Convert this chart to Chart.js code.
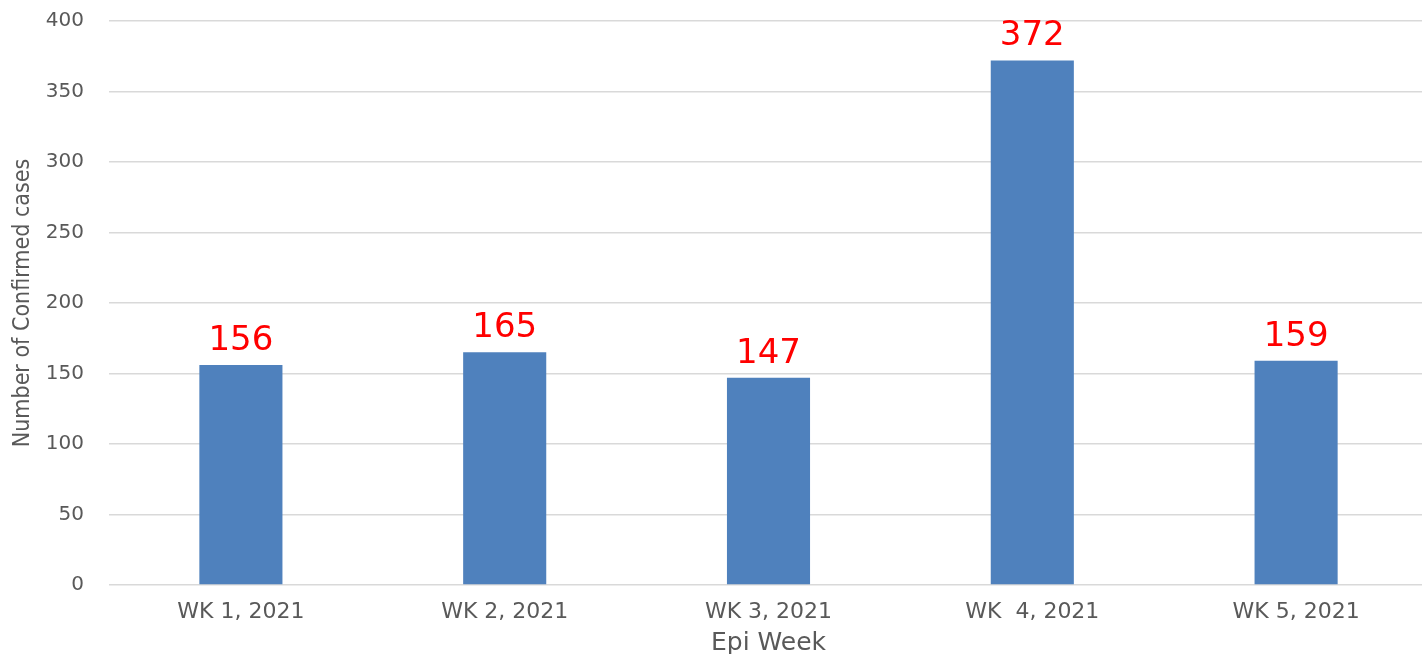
<!DOCTYPE html>
<html>
<head>
<meta charset="utf-8">
<script src="https://cdn.jsdelivr.net/npm/chart.js@4/dist/chart.umd.min.js"></script>
<style>
    html, body { margin: 0; padding: 0; background: #fff; overflow: hidden; }
    .chart-block { position: relative; width: 1430px; height: 658px; }
</style>
</head>
<body>
<div class="chart-block">
    <canvas id="myChart"></canvas>
</div>
<script>
const weeks = ['WK 1, 2021', 'WK 2, 2021', 'WK 3, 2021', 'WK  4, 2021', 'WK 5, 2021'];
const cases = [156, 165, 147, 372, 159];
const yMax = 400;
const yStep = 50;

const axisGrey = '#595959';

// values above the bars, red
const barLabels = {
    id: 'barLabels',
    afterDatasetsDraw(chart) {
        const ctx = chart.ctx;
        const meta = chart.getDatasetMeta(0);
        ctx.save();
        ctx.fillStyle = '#ff0000';
        ctx.font = '34px "DejaVu Sans"';
        ctx.textAlign = 'center';
        ctx.textBaseline = 'alphabetic';
        meta.data.forEach((bar, i) => {
            ctx.fillText(String(cases[i]), bar.x, bar.y - 15);
        });
        ctx.restore();
    }
};

const ctx = document.getElementById('myChart').getContext('2d');
new Chart(ctx, {
    type: 'bar',
    data: {
        labels: weeks,
        datasets: [
            {
                label: 'Confirmed cases',
                data: cases,
                backgroundColor: '#4f81bd',
                borderWidth: 0,
                barPercentage: 0.315,
                categoryPercentage: 1
            }
        ]
    },
    options: {
        responsive: true,
        maintainAspectRatio: false,
        animation: false,
        layout: {
            padding: {top: 21, right: 2, bottom: 0, left: 0}
        },
        scales: {
            x: {
                afterFit(scale) {
                    scale.height = 73;
                },
                grid: {display: false, drawTicks: false},
                border: {display: false},
                ticks: {
                    color: axisGrey,
                    padding: 14,
                    maxRotation: 0,
                    font: {family: '"DejaVu Sans"', size: 22}
                },
                title: {
                    display: true,
                    text: 'Epi Week',
                    color: axisGrey,
                    padding: {top: 3, bottom: 0},
                    font: {family: '"DejaVu Sans"', size: 25}
                }
            },
            y: {
                min: 0,
                max: yMax,
                afterFit(scale) {
                    scale.width = 109;
                    scale.paddingTop = 0;
                    scale.paddingBottom = 0;
                },
                grid: {color: '#d9d9d9', lineWidth: 1.5, drawTicks: false},
                border: {display: false},
                ticks: {
                    stepSize: yStep,
                    color: axisGrey,
                    padding: 25,
                    font: {family: '"DejaVu Sans"', size: 20}
                },
                title: {
                    display: true,
                    text: 'Number of Confirmed cases',
                    color: axisGrey,
                    padding: {top: 9, bottom: 4},
                    font: {family: '"DejaVu Sans Condensed"', size: 23}
                }
            }
        },
        plugins: {
            legend: {display: false},
            tooltip: {enabled: false}
        }
    },
    plugins: [barLabels]
});
</script>
</body>
</html>
